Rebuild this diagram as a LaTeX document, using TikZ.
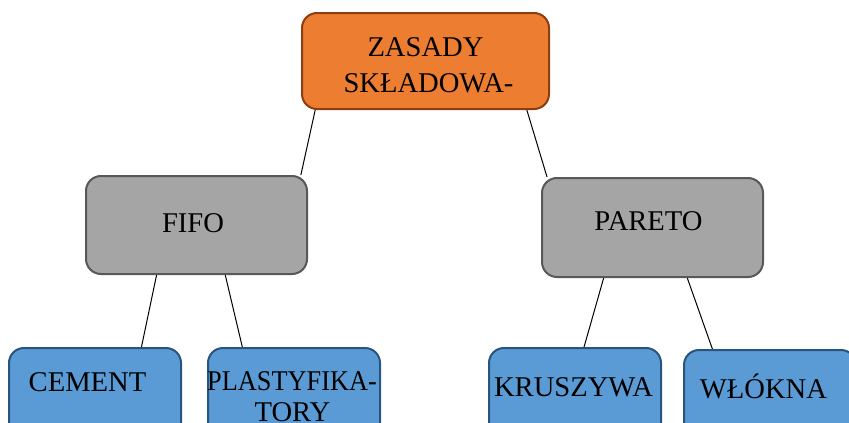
\documentclass[tikz,border=0pt]{standalone}
\usepackage{fontspec}
\setmainfont{Liberation Serif}
\usetikzlibrary{calc,backgrounds}

\definecolor{topfill}{RGB}{237,125,49}
\definecolor{topedge}{RGB}{140,62,16}
\definecolor{midfill}{RGB}{165,165,165}
\definecolor{midedge}{RGB}{88,88,88}
\definecolor{leaffill}{RGB}{91,155,213}
\definecolor{leafedge}{RGB}{40,84,128}

\tikzset{
  box/.style={draw, line width=2pt, rounded corners=15pt, inner sep=0pt, anchor=north west},
  topbox/.style={box, fill=topfill, draw=topedge},
  midbox/.style={box, fill=midfill, draw=midedge},
  leafbox/.style={box, fill=leaffill, draw=leafedge},
  label/.style={anchor=base, inner sep=0pt, font=\fontsize{28.6}{36}\selectfont},
  link/.style={line width=1pt, black},
}

\begin{document}
\begin{tikzpicture}[x=1pt, y=-1pt]
\useasboundingbox (0,0) rectangle (849,423);

% boxes
\node[topbox,  minimum width=247pt, minimum height=96pt] (top)    at (301,12)  {};
\node[midbox,  minimum width=221pt, minimum height=98pt] (fifo)   at (85,175)  {};
\node[midbox,  minimum width=221pt, minimum height=99pt] (pareto) at (541,177) {};
\node[leafbox, minimum width=172pt, minimum height=110pt] (cement) at (8,347)   {};
\node[leafbox, minimum width=172pt, minimum height=110pt] (plast)  at (207,347) {};
\node[leafbox, minimum width=172pt, minimum height=110pt] (krusz)  at (488,347) {};
\node[leafbox, minimum width=172pt, minimum height=110pt] (wlok)   at (683,349) {};

% texts
\node[label] (t1a) at (425.5,56) {ZASADY};
\node[label] (t1b) at (428.5,92) {SKŁADOWA-};
\node[label] (t2)  at (193,232)  {FIFO};
\node[label] (t3)  at (648.5,230) {PARETO};
\node[label] (t4)  at (87.5,391) {CEMENT};
\node[label, xscale=0.92] (t5a) at (292,390) {PLASTYFIKA-};
\node[label] (t5b) at (292.5,421) {TORY};
\node[label] (t6)  at (573.5,396) {KRUSZYWA};
\node[label] (t7)  at (763.5,398) {WŁÓKNA};

% connectors, under the boxes
\begin{scope}[on background layer]
\draw[link] ($(top.south west)!0.057!(top.south east)$) -- ($(fifo.north west)!0.968!(fifo.north east)$);
\draw[link] ($(top.south west)!0.907!(top.south east)$) -- ($(pareto.north west)!0.027!(pareto.north east)$);
\draw[link] ($(fifo.south west)!0.321!(fifo.south east)$) -- ($(cement.north west)!0.767!(cement.north east)$);
\draw[link] ($(fifo.south west)!0.629!(fifo.south east)$) -- ($(plast.north west)!0.203!(plast.north east)$);
\draw[link] ($(pareto.south west)!0.281!(pareto.south east)$) -- ($(krusz.north west)!0.552!(krusz.north east)$);
\draw[link] ($(pareto.south west)!0.656!(pareto.south east)$) -- ($(wlok.north west)!0.169!(wlok.north east)$);
\end{scope}
\end{tikzpicture}
\end{document}
